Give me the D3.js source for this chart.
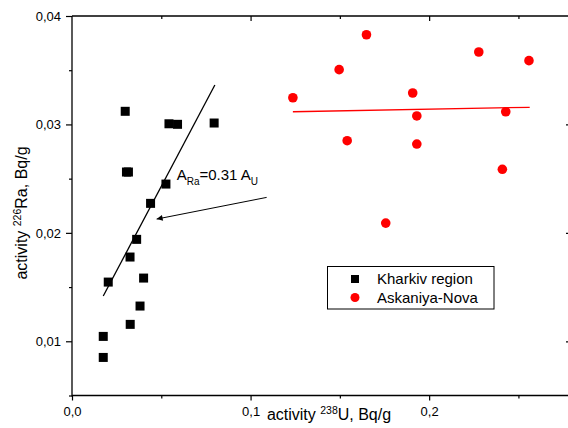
<!DOCTYPE html>
<html><head><meta charset="utf-8">
<script src="https://cdn.jsdelivr.net/npm/d3@7"></script>
<style>body{margin:0;background:#fff}svg{display:block;font-family:"Liberation Sans",Arial,sans-serif}</style>
</head><body><svg id="c" width="568" height="428"></svg>
<script>
// Kharkiv region (black squares)
const kharkivU  = [0.0298,0.0543,0.0591,0.0796,0.0305,0.0316,0.0526,0.0440,0.0362,0.0325,0.0203,0.0401,0.0381,0.0326,0.0175,0.0175];
const kharkivRa = [0.03121,0.03006,0.03001,0.03013,0.02561,0.02561,0.02450,0.02272,0.01940,0.01777,0.01546,0.01583,0.01325,0.01156,0.01045,0.00851];
// Askaniya-Nova (red circles)
const askU  = [0.1649,0.2278,0.2559,0.1496,0.1237,0.1908,0.1931,0.2429,0.1541,0.1931,0.2410,0.1757];
const askRa = [0.03827,0.03668,0.03588,0.03505,0.03246,0.03290,0.03078,0.03117,0.02850,0.02819,0.02586,0.02090];
// fit lines (end points)
const fitKX = [0.0175, 0.0800], fitKY = [0.01417, 0.03363];
const fitAX = [0.1237, 0.2563], fitAY = [0.03117, 0.03158];
// ticks
const xMajor = [0, 0.1, 0.2], xMinor = [0.05, 0.15, 0.25];
const yMajor = [0.01, 0.02, 0.03, 0.04], yMinor = [0.005, 0.015, 0.025, 0.035];
const seriesNames = ["Kharkiv region", "Askaniya-Nova"];
// annotation
const annotPos = [0.0586, 0.02487];
const arrowFrom = [0.1090, 0.02327], arrowTo = [0.0474, 0.02127];

const svg = d3.select("#c");
const L = 72, R = 572, T = 16, B = 395.5;
const x = d3.scaleLinear().domain([0, 0.28]).range([L, R]);
const y = d3.scaleLinear().domain([0.005, 0.04]).range([B, T]);
const loc = d3.formatLocale({decimal: ",", thousands: " ", grouping: [3], currency: ["", ""]});
const fx = loc.format(".1f"), fy = loc.format(".2f");

svg.append("defs").append("marker").attr("id","ah").attr("viewBox","0 0 10 10")
  .attr("refX",10).attr("refY",5).attr("markerWidth",9).attr("markerHeight",6)
  .attr("markerUnits","userSpaceOnUse").attr("orient","auto")
  .append("path").attr("d","M0,0L10,5L0,10z").attr("fill","#000");

// Axes
const axG = svg.append("g").attr("stroke","#000").attr("fill","none");
axG.append("line").attr("x1",L).attr("x2",R).attr("y1",B).attr("y2",B).attr("stroke-width",1.3);
axG.append("line").attr("x1",L).attr("x2",R).attr("y1",T).attr("y2",T).attr("stroke-width",1.3);
axG.append("line").attr("x1",L).attr("x2",L).attr("y1",T).attr("y2",B+1).attr("stroke-width",1.3);
axG.append("line").attr("x1",R).attr("x2",R).attr("y1",T).attr("y2",B).attr("stroke-width",1.3);

const bottomAx = d3.axisBottom(x).tickValues(xMajor).tickSizeInner(5).tickSizeOuter(0).tickFormat(fx).tickPadding(6);
const bg = svg.append("g").attr("transform",`translate(0,${B})`).call(bottomAx);
bg.select(".domain").remove();
bg.selectAll("text").attr("font-size",13).attr("font-family","Liberation Sans, Arial, sans-serif");
const bminAx = d3.axisBottom(x).tickValues(xMinor).tickSize(3).tickFormat("");
svg.append("g").attr("transform",`translate(0,${B})`).call(bminAx).select(".domain").remove();

const leftAx = d3.axisLeft(y).tickValues(yMajor).tickSizeInner(6).tickSizeOuter(0).tickFormat(fy).tickPadding(5);
const lg = svg.append("g").attr("transform",`translate(${L},0)`).call(leftAx);
lg.select(".domain").remove();
lg.selectAll("text").attr("font-size",13).attr("font-family","Liberation Sans, Arial, sans-serif");
const lminAx = d3.axisLeft(y).tickValues(yMinor).tickSize(3).tickFormat("");
svg.append("g").attr("transform",`translate(${L},0)`).call(lminAx).select(".domain").remove();

// top (inward)
const topAx = d3.axisBottom(x).tickValues(xMajor.slice(1)).tickSize(5).tickFormat("");
svg.append("g").attr("transform",`translate(0,${T})`).call(topAx).select(".domain").remove();
const topmAx = d3.axisBottom(x).tickValues(xMinor).tickSize(3).tickFormat("");
svg.append("g").attr("transform",`translate(0,${T})`).call(topmAx).select(".domain").remove();
// right (inward)
const rightAx = d3.axisLeft(y).tickValues(yMajor.slice(0,3)).tickSize(6).tickFormat("");
svg.append("g").attr("transform",`translate(${R},0)`).call(rightAx).select(".domain").remove();
svg.selectAll(".tick line").attr("stroke-width",1.2);

// Axis titles
const xt = svg.append("text").attr("x",329).attr("y",420).attr("text-anchor","middle").attr("font-size",16);
xt.append("tspan").text("activity ");
xt.append("tspan").attr("font-size",10.5).attr("dy",-6.5).text("238");
xt.append("tspan").attr("dy",6.5).text("U, Bq/g");

const yt = svg.append("text").attr("transform","translate(27,213) rotate(-90)").attr("text-anchor","middle").attr("font-size",16);
yt.append("tspan").text("activity ");
yt.append("tspan").attr("font-size",10.5).attr("dy",-6.5).text("226");
yt.append("tspan").attr("dy",6.5).text("Ra, Bq/g");

// fit lines
svg.append("line").attr("x1",x(fitKX[0])).attr("y1",y(fitKY[0])).attr("x2",x(fitKX[1])).attr("y2",y(fitKY[1]))
  .attr("stroke","#000").attr("stroke-width",1.3);
svg.append("line").attr("x1",x(fitAX[0])).attr("y1",y(fitAY[0])).attr("x2",x(fitAX[1])).attr("y2",y(fitAY[1]))
  .attr("stroke","#f00").attr("stroke-width",1.3);

// points
const S = 9;
svg.append("g").selectAll("rect").data(d3.range(kharkivU.length)).join("rect")
  .attr("x",i=>x(kharkivU[i])-S/2).attr("y",i=>y(kharkivRa[i])-S/2).attr("width",S).attr("height",S).attr("fill","#000");
svg.append("g").selectAll("circle").data(d3.range(askU.length)).join("circle")
  .attr("cx",i=>x(askU[i])).attr("cy",i=>y(askRa[i])).attr("r",4.8).attr("fill","#f00");

// annotation
const an = svg.append("text").attr("x",x(annotPos[0])).attr("y",y(annotPos[1])).attr("font-size",15);
an.append("tspan").text("A");
an.append("tspan").attr("font-size",10).attr("dy",5).text("Ra");
an.append("tspan").attr("dy",-5).text("=0.31 A");
an.append("tspan").attr("font-size",10).attr("dy",5).text("U");
svg.append("line").attr("x1",x(arrowFrom[0])).attr("y1",y(arrowFrom[1])).attr("x2",x(arrowTo[0])).attr("y2",y(arrowTo[1]))
  .attr("stroke","#000").attr("stroke-width",1).attr("marker-end","url(#ah)");

// legend
const lgd = svg.append("g");
lgd.append("rect").attr("x",327.5).attr("y",266.5).attr("width",166.5).attr("height",42.5).attr("fill","#fff").attr("stroke","#000").attr("stroke-width",1);
lgd.append("rect").attr("x",355-4).attr("y",279-4).attr("width",8).attr("height",8).attr("fill","#000");
lgd.append("circle").attr("cx",355).attr("cy",297.5).attr("r",4.5).attr("fill","#f00");
lgd.selectAll("text.l").data(seriesNames).join("text").attr("class","l")
  .attr("x",377).attr("y",(d,i)=>279+i*18.5).attr("dy","0.35em").attr("font-size",15).text(d=>d);
</script></body></html>
